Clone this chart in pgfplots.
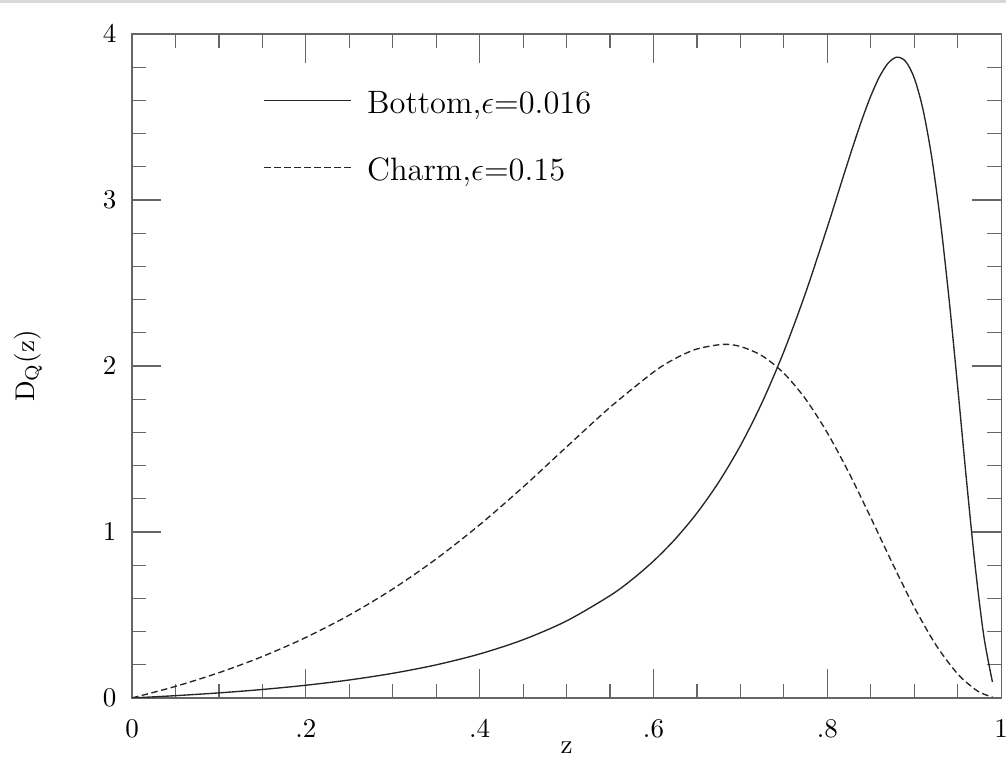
\documentclass[border=0pt]{standalone}
\usepackage{pgfplots}
\pgfplotsset{compat=1.18}

\begin{document}
\begin{tikzpicture}
\useasboundingbox (0,0) rectangle (372.6pt,284.4pt);
\fill[black!15] (0,283.3pt) rectangle (372.6pt,284.4pt);
\begin{axis}[
  at={(48.9pt,25.9pt)}, anchor=south west,
  scale only axis, width=321.9pt, height=245.9pt,
  xmin=0, xmax=1, ymin=0, ymax=4,
  xtick={0,0.2,0.4,0.6,0.8,1}, xticklabels={0,.2,.4,.6,.8,1},
  ytick={0,1,2,3,4},
  minor x tick num=3, minor y tick num=4,
  tick align=inside, tick pos=both,
  xticklabel pos=left, yticklabel pos=left,
  major tick length=10.7pt, minor tick length=5.2pt,
  axis line style={black!60, line width=0.45pt},
  every tick/.style={black!60, line width=0.45pt},
  xticklabel style={yshift=-4.5pt},
  yticklabel style={xshift=-2.3pt},
  xlabel={z}, ylabel={D$_{\mathrm{Q}}$(z)},
  xlabel style={at={(axis description cs:0.5,0)}, anchor=center, yshift=-18.5pt},
  ylabel style={at={(axis description cs:-0.1196,0.5)}, anchor=center},
  legend style={at={(0.1507,0.918)}, anchor=north west, draw=none, fill=none,
                inner sep=0pt, row sep=12.8pt, column sep=5.9pt,
                nodes={inner sep=0pt, text height=9pt, text depth=3pt,
                       font=\fontsize{12}{14.4}\selectfont}},
  legend cell align=left,
  legend image code/.code={\draw[#1] (0pt,1.7pt) -- (32pt,1.7pt);},
]
\addplot[black!85, line width=0.5pt, smooth] coordinates {
 (0,0) (0.01,0.0025) (0.05,0.0137) (0.1,0.0304) (0.15,0.0510) (0.2,0.0765)
 (0.25,0.1083) (0.3,0.1484) (0.35,0.1994) (0.4,0.2650) (0.45,0.3507)
 (0.5,0.4640) (0.55,0.6164) (0.575,0.7122) (0.6,0.8247) (0.625,0.9572)
 (0.65,1.1140) (0.675,1.2997)
 (0.7,1.5200) (0.725,1.7807) (0.75,2.0869) (0.775,2.4407) (0.8,2.8362)
 (0.81,3.0020) (0.82,3.1683) (0.83,3.3315) (0.84,3.4864) (0.85,3.6262)
 (0.86,3.7426) (0.87,3.8249) (0.88,3.8605) (0.89,3.8355) (0.9,3.7354)
 (0.91,3.5472) (0.92,3.2618) (0.93,2.8781) (0.94,2.4067) (0.95,1.8733)
 (0.96,1.3195) (0.97,0.8001) (0.98,0.3746) (0.99,0.0963)};
\addlegendentry{Bottom,$\epsilon$=0.016}
\addplot[black!85, line width=0.5pt, smooth, dash pattern=on 2.4pt off 1.3pt] coordinates {
 (0,0) (0.05,0.0696) (0.1,0.1521) (0.15,0.2495) (0.2,0.3644) (0.25,0.4992)
 (0.3,0.6563) (0.35,0.8376) (0.4,1.0433) (0.45,1.2708) (0.5,1.5124)
 (0.55,1.7511) (0.6,1.9630) (0.625,2.0448) (0.65,2.1025) (0.68,2.1300)
 (0.7,2.1174) (0.725,2.0612) (0.75,1.9561) (0.775,1.8006) (0.8,1.5975)
 (0.825,1.3549) (0.85,1.0863) (0.875,0.8100) (0.9,0.5471) (0.925,0.3190)
 (0.95,0.1444) (0.97,0.0521) (0.98,0.0231) (0.99,0.0057)};
\addlegendentry{Charm,$\epsilon$=0.15}
\end{axis}
\end{tikzpicture}
\end{document}
